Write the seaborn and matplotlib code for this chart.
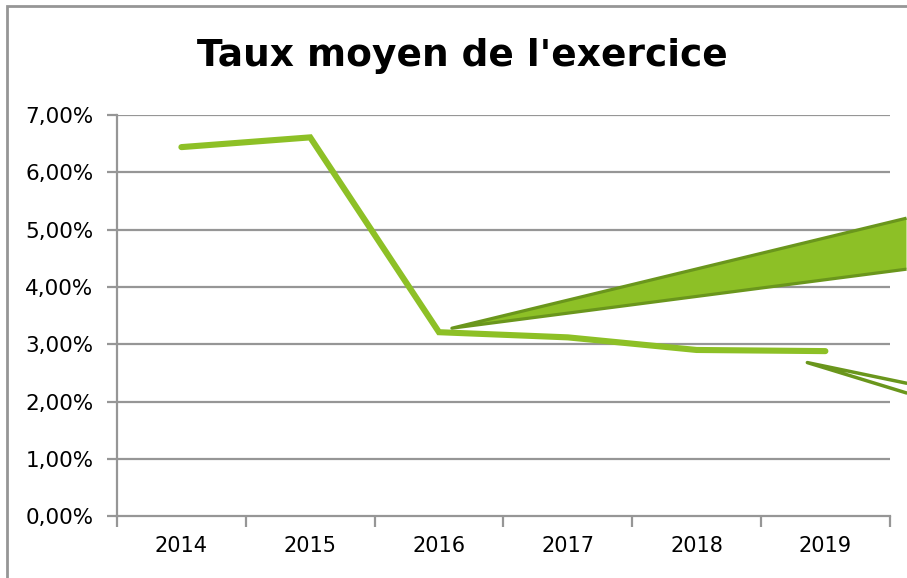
"""
Taux moyen de l'exercice - line chart with two decorative arrow wedges
"""
import matplotlib.pyplot as plt
import pandas as pd
import seaborn as sns
from matplotlib.patches import Polygon, Rectangle
from matplotlib.ticker import FixedLocator, FuncFormatter

sns.set_style("white")
plt.rcParams["font.family"] = ["DejaVu Sans"]
plt.rcParams["text.color"] = "black"
plt.rcParams["xtick.labelcolor"] = "black"
plt.rcParams["ytick.labelcolor"] = "black"

YEARS = ["2014", "2015", "2016", "2017", "2018", "2019"]
TAUX = [6.44, 6.61, 3.21, 3.12, 2.90, 2.88]
Y_TICKS = [0, 1, 2, 3, 4, 5, 6, 7]

# decorative wedges (x in category index, y in %): end, apex, end
WEDGE_UP_X = [5.63, 2.10, 5.63]
WEDGE_UP_Y = [5.20, 3.28, 4.31]
WEDGE_DOWN_X = [5.63, 4.86, 5.63]
WEDGE_DOWN_Y = [2.32, 2.68, 2.15]

LINE_GREEN = "#8dc026"
DARK_GREEN = "#6a961c"
GREY = "#969696"

df = pd.DataFrame({"pos": range(len(YEARS)), "taux": TAUX})

fig = plt.figure(figsize=(9.07, 5.78), dpi=100)
ax = fig.add_axes([0.129, 0.107, 0.852, 0.694])

sns.lineplot(data=df, x="pos", y="taux", color=LINE_GREEN, linewidth=4.4,
             solid_capstyle="round", solid_joinstyle="miter", ax=ax, zorder=3)

ax.set_xlim(-0.5, len(YEARS) - 0.5)
ax.set_ylim(0, 7)

# wedges
up = Polygon(list(zip(WEDGE_UP_X, WEDGE_UP_Y)), closed=False,
             facecolor=LINE_GREEN, edgecolor=DARK_GREEN, linewidth=2.3,
             joinstyle="round", clip_on=False, zorder=4)
ax.add_patch(up)
down = Polygon(list(zip(WEDGE_DOWN_X, WEDGE_DOWN_Y)), closed=False,
               facecolor="none", edgecolor=DARK_GREEN, linewidth=2.5,
               joinstyle="round", capstyle="round", clip_on=False, zorder=4)
ax.add_patch(down)

# grid and spines
for v in Y_TICKS[1:]:
    ax.axhline(v, color=GREY, linewidth=1.6, zorder=1)
for side in ["top", "right"]:
    ax.spines[side].set_visible(False)
for side in ["left", "bottom"]:
    ax.spines[side].set_color(GREY)
    ax.spines[side].set_linewidth(1.6)

ax.yaxis.set_major_locator(FixedLocator(Y_TICKS))
ax.yaxis.set_major_formatter(
    FuncFormatter(lambda v, _: f"{v:.2f}%".replace(".", ",")))
ax.tick_params(axis="y", which="major", direction="out", length=7,
               width=1.6, color=GREY, labelsize=15.5, pad=10, left=True,
               labelcolor="black")

ax.xaxis.set_major_locator(
    FixedLocator([i - 0.5 for i in range(len(YEARS) + 1)]))
ax.xaxis.set_major_formatter(FuncFormatter(lambda v, _: ""))
ax.set_xticks(list(range(len(YEARS))), YEARS, minor=True)
ax.tick_params(axis="x", which="major", direction="out", length=8,
               width=1.6, color=GREY, bottom=True)
ax.tick_params(axis="x", which="minor", length=0, labelsize=15, pad=14,
               labelcolor="black")

ax.set_xlabel("")
ax.set_ylabel("")

# outer frame (left and top)
fig.patches.append(Rectangle((0.0077, -0.01), 1.1, 1.0, transform=fig.transFigure,
                             fill=False, edgecolor=GREY, linewidth=2))

fig.text(0.51, 0.903, "Taux moyen de l'exercice", ha="center", va="center",
         fontsize=27, fontweight="bold", color="black")

fig.savefig("out.png", dpi=100)
